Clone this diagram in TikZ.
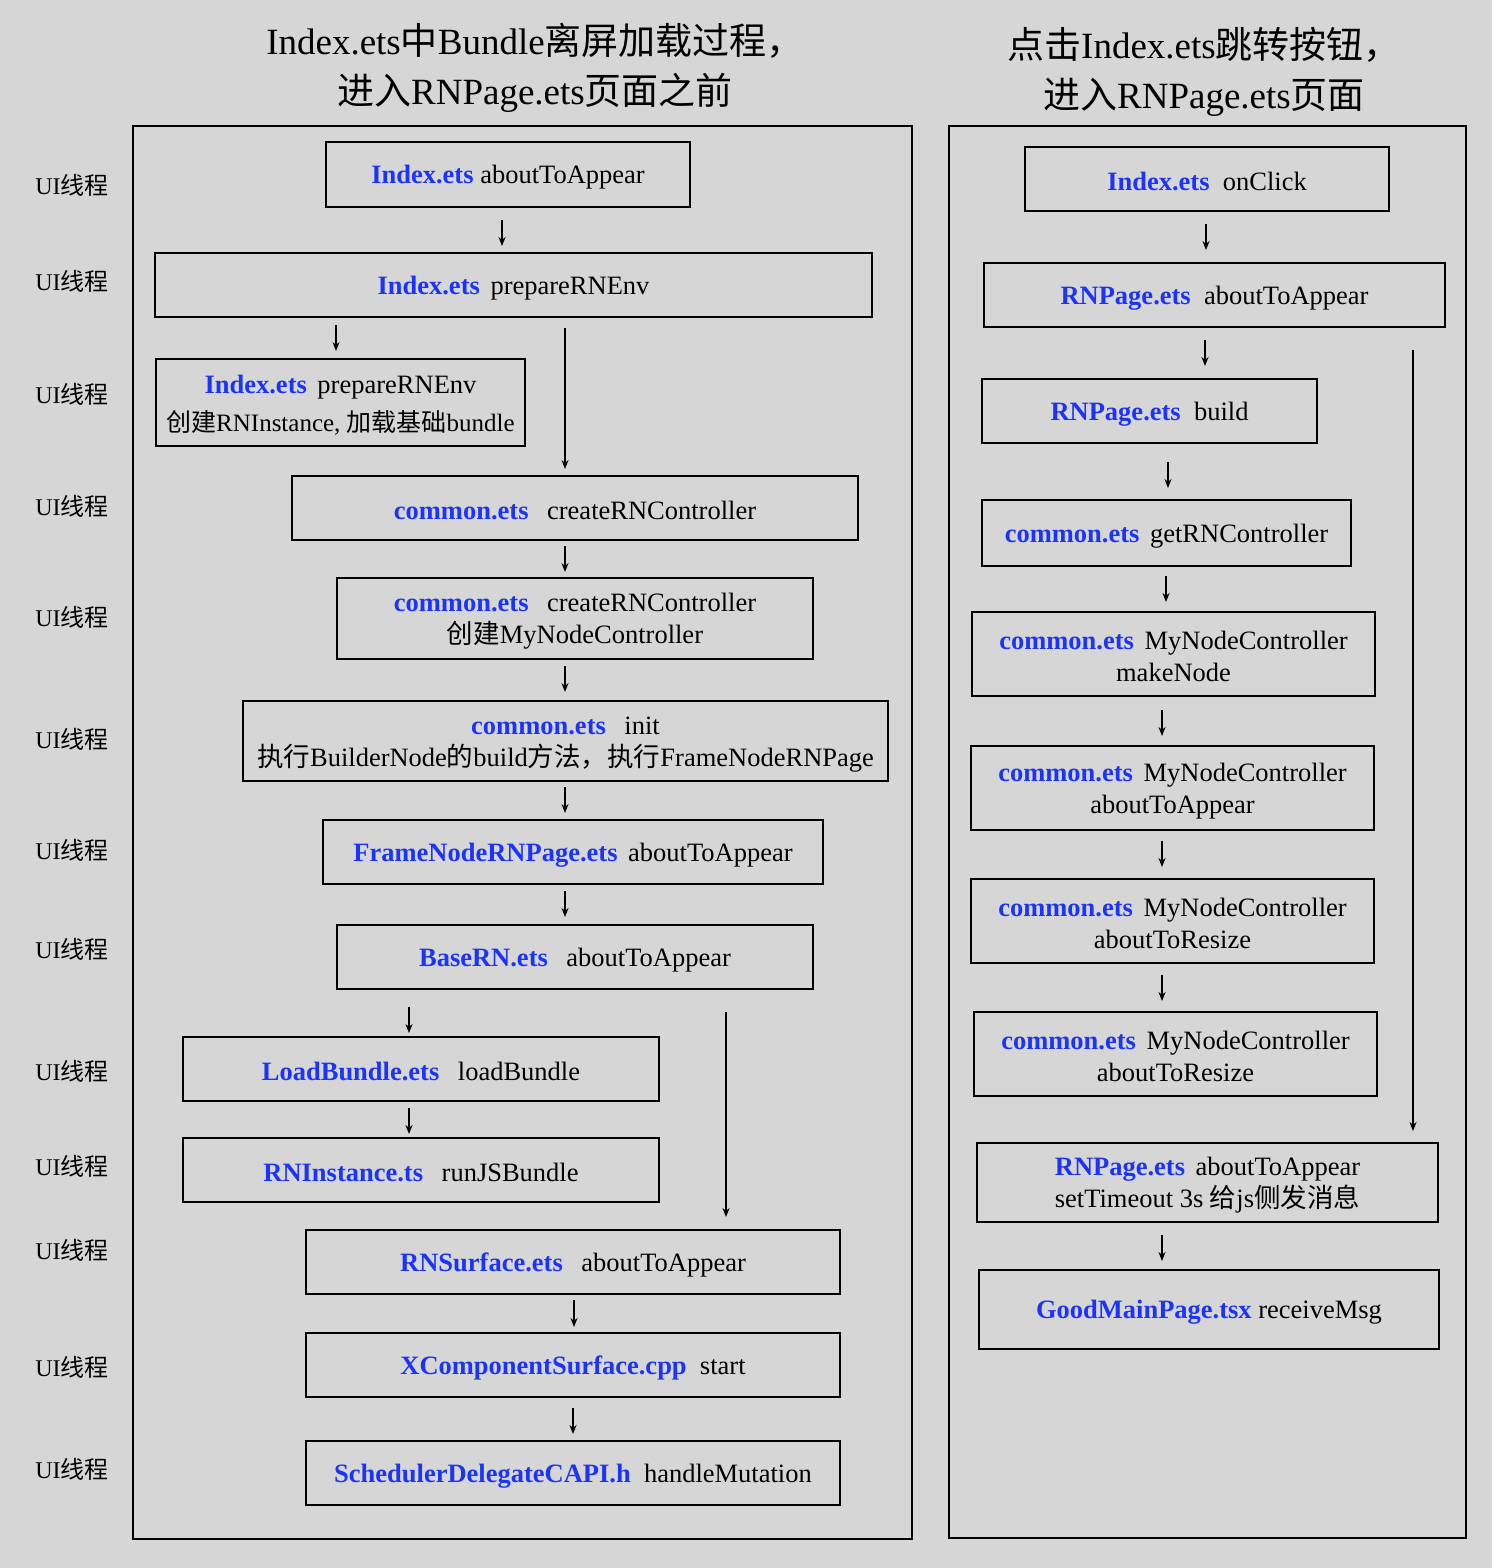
\documentclass[tikz,border=0pt]{standalone}
\usepackage{fontspec}
\setmainfont{Liberation Serif}
\newfontfamily\cjk{Noto Sans CJK SC}
\usetikzlibrary{arrows.meta}
\definecolor{bgray}{RGB}{214,214,214}
\definecolor{fblue}{RGB}{28,52,245}
\newcommand\zhs[1]{{\cjk #1}}
\newcommand\fname[1]{\rule{0pt}{24pt}\textcolor{fblue}{\textbf{#1}}}
\tikzset{
  box/.style={draw=black, line width=2pt, inner sep=0pt, align=center, font=\fontsize{26.5}{32}\selectfont},
  frame/.style={draw=black, line width=2pt},
  arr/.style={-{Stealth[length=9pt,width=7pt]}, line width=1.6pt},
  lbl/.style={font=\fontsize{24}{28}\selectfont},
  ttl/.style={font=\fontsize{37}{50}\selectfont, align=center}
}
\begin{document}
\begin{tikzpicture}[x=1pt,y=-1pt]
\useasboundingbox (0,0) rectangle (1492,1568);
\fill[bgray] (0,0) rectangle (1492,1568);

% titles
\node[ttl] (t1) at (535,68) {Index.ets\zhs{中}Bundle\zhs{离屏加载过程，}\\ \zhs{进入}RNPage.ets\zhs{页面之前}};
\node[ttl] (t2) at (1204,72) {\zhs{点击}Index.ets\zhs{跳转按钮，}\\ \zhs{进入}RNPage.ets\zhs{页面}};

% frames
\draw[frame] (133,126) rectangle (912,1539);
\draw[frame] (949,126) rectangle (1466,1538);

% UI thread labels
\foreach \y [count=\i] in {185,281,394,506,617,739,850,949,1071,1166,1250,1367,1469}
  \node[lbl] (ui\i) at (72,\y) {UI\zhs{线程}};

% left boxes
\node[box, minimum width=364pt, minimum height=65pt] (L1) at (508,174.5) {\fname{Index.ets} aboutToAppear};
\node[box, minimum width=717pt, minimum height=64pt] (L2) at (513.5,285) {\fname{Index.ets}\hspace{0.4em}prepareRNEnv};
\node[box, minimum width=369pt, minimum height=87pt] (L3) at (340.5,402.5) {\fname{Index.ets}\hspace{0.4em}prepareRNEnv\\[6pt] {\fontsize{25}{30}\selectfont\zhs{创建}RNInstance, \zhs{加载基础}bundle}};
\node[box, minimum width=566pt, minimum height=64pt] (L4) at (575,508) {\fname{common.ets}\hspace{0.7em}createRNController};
\node[box, minimum width=476pt, minimum height=81pt] (L5) at (575,618.5) {\fname{common.ets}\hspace{0.7em}createRNController\\ \zhs{创建}MyNodeController};
\node[box, minimum width=645pt, minimum height=80pt] (L6) at (565.5,741) {\fname{common.ets}\hspace{0.7em}init\\ \zhs{执行}BuilderNode\zhs{的}build\zhs{方法，执行}FrameNodeRNPage};
\node[box, minimum width=500pt, minimum height=64pt] (L7) at (573,852) {\fname{FrameNodeRNPage.ets}\hspace{0.4em}aboutToAppear};
\node[box, minimum width=476pt, minimum height=64pt] (L8) at (575,957) {\fname{BaseRN.ets}\hspace{0.7em}aboutToAppear};
\node[box, minimum width=476pt, minimum height=64pt] (L9) at (421,1069) {\fname{LoadBundle.ets}\hspace{0.7em}loadBundle};
\node[box, minimum width=476pt, minimum height=64pt] (L10) at (421,1170) {\fname{RNInstance.ts}\hspace{0.7em}runJSBundle};
\node[box, minimum width=534pt, minimum height=64pt] (L11) at (573,1262) {\fname{RNSurface.ets}\hspace{0.7em}aboutToAppear};
\node[box, minimum width=534pt, minimum height=64pt] (L12) at (573,1365) {\fname{XComponentSurface.cpp}\hspace{0.5em}start};
\node[box, minimum width=534pt, minimum height=64pt] (L13) at (573,1473) {\fname{SchedulerDelegateCAPI.h}\hspace{0.5em}handleMutation};

% right boxes
\node[box, minimum width=364pt, minimum height=64pt] (R1) at (1207,179) {\fname{Index.ets}\hspace{0.5em}onClick};
\node[box, minimum width=461pt, minimum height=64pt] (R2) at (1214.5,295) {\fname{RNPage.ets}\hspace{0.5em}aboutToAppear};
\node[box, minimum width=335pt, minimum height=64pt] (R3) at (1149.5,411) {\fname{RNPage.ets}\hspace{0.5em}build};
\node[box, minimum width=369pt, minimum height=66pt] (R4) at (1166.5,533) {\fname{common.ets}\hspace{0.4em}getRNController};
\node[box, minimum width=403pt, minimum height=84pt] (R5) at (1173.5,654) {\fname{common.ets}\hspace{0.4em}MyNodeController\\ makeNode};
\node[box, minimum width=403pt, minimum height=84pt] (R6) at (1172.5,788) {\fname{common.ets}\hspace{0.4em}MyNodeController\\ aboutToAppear};
\node[box, minimum width=403pt, minimum height=84pt] (R7) at (1172.5,921) {\fname{common.ets}\hspace{0.4em}MyNodeController\\ aboutToResize};
\node[box, minimum width=403pt, minimum height=84pt] (R8) at (1175.5,1054) {\fname{common.ets}\hspace{0.4em}MyNodeController\\ aboutToResize};
\node[box, minimum width=461pt, minimum height=79pt] (R9) at (1207.5,1182.5) {\fname{RNPage.ets}\hspace{0.4em}aboutToAppear\\ setTimeout 3s \zhs{给}js\zhs{侧发消息}};
\node[box, minimum width=460pt, minimum height=79pt] (R10) at (1209,1309.5) {\fname{GoodMainPage.tsx} receiveMsg};

% arrow end points (left)
\coordinate (la1s) at (502,220);  \coordinate (la1e) at (502,246);
\coordinate (la2s) at (336,325);  \coordinate (la2e) at (336,351);
\coordinate (la3s) at (565,328);  \coordinate (la3e) at (565,469);
\coordinate (la4s) at (565,546);  \coordinate (la4e) at (565,572);
\coordinate (la5s) at (565,666);  \coordinate (la5e) at (565,692);
\coordinate (la6s) at (565,787);  \coordinate (la6e) at (565,813);
\coordinate (la7s) at (565,891);  \coordinate (la7e) at (565,917);
\coordinate (la8s) at (409,1007); \coordinate (la8e) at (409,1033);
\coordinate (la9s) at (726,1012); \coordinate (la9e) at (726,1217);
\coordinate (la10s) at (409,1108); \coordinate (la10e) at (409,1134);
\coordinate (la11s) at (574,1300); \coordinate (la11e) at (574,1327);
\coordinate (la12s) at (573,1408); \coordinate (la12e) at (573,1434);
\foreach \i in {1,...,12} \draw[arr] (la\i s) -- (la\i e);

% arrow end points (right)
\coordinate (ra1s) at (1206,224); \coordinate (ra1e) at (1206,250);
\coordinate (ra2s) at (1205,340); \coordinate (ra2e) at (1205,366);
\coordinate (ra3s) at (1168,462); \coordinate (ra3e) at (1168,488);
\coordinate (ra4s) at (1166,576); \coordinate (ra4e) at (1166,602);
\coordinate (ra5s) at (1162,710); \coordinate (ra5e) at (1162,736);
\coordinate (ra6s) at (1162,841); \coordinate (ra6e) at (1162,867);
\coordinate (ra7s) at (1162,975); \coordinate (ra7e) at (1162,1001);
\coordinate (ra8s) at (1413,350); \coordinate (ra8e) at (1413,1131);
\coordinate (ra9s) at (1162,1235); \coordinate (ra9e) at (1162,1261);
\foreach \i in {1,...,9} \draw[arr] (ra\i s) -- (ra\i e);
\end{tikzpicture}
\end{document}
